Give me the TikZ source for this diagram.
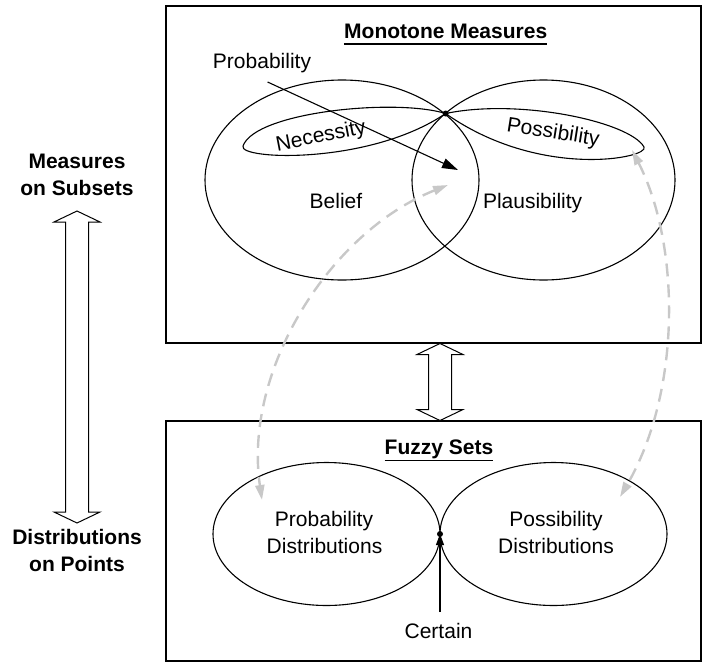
\documentclass[tikz,border=0pt]{standalone}
\usepackage{fontspec}
\setmainfont{Liberation Sans}
\usetikzlibrary{arrows.meta}
\definecolor{linkgray}{RGB}{200,200,200}
% hollow double-headed block arrow: centre x, top tip y, bottom tip y
\newcommand\blockarrow[3]{%
  \draw[blockline] (#1,#2) -- (#1+23,#2+11) -- (#1+11.5,#2+11) -- (#1+11.5,#3-11)
    -- (#1+23,#3-11) -- (#1,#3) -- (#1-23,#3-11) -- (#1-11.5,#3-11)
    -- (#1-11.5,#2+11) -- (#1-23,#2+11) -- cycle;}
\begin{document}
\begin{tikzpicture}[x=1pt,y=-1pt,
  frame/.style={draw,line width=2pt},
  setline/.style={draw,line width=1.1pt},
  blockline/.style={draw,line width=1pt,fill=white},
  lbl/.style={font=\fontsize{21}{25}\selectfont,inner sep=0pt,anchor=base},
  boldlbl/.style={lbl,font=\fontsize{21}{25}\selectfont\bfseries},
  pointer/.style={line width=1.1pt,-{Triangle[length=16pt,width=10pt]}},
  shortpointer/.style={line width=1.1pt,-{Triangle[length=11pt,width=8pt]}},
  graylink/.style={draw=linkgray,line width=2.4pt,dash pattern=on 13pt off 8pt,
    {Triangle[length=15pt,width=9pt]}-{Triangle[length=15pt,width=9pt]}},
  meet/.style={circle,fill,inner sep=0pt,minimum size=6pt}]
\useasboundingbox (0,0) rectangle (704,662);

% ---------- monotone measures ----------
\draw[frame] (166,6) rectangle (701,343);
\node[boldlbl] (mmtitle) at (445.7,38.5) {Monotone Measures};
\draw[line width=1.8pt] ([yshift=-5.5pt]mmtitle.base west) -- ([yshift=-5.5pt]mmtitle.base east);

\draw[setline] (342,180) ellipse [x radius=137, y radius=100];
\draw[setline] (543.5,180) ellipse [x radius=131.5, y radius=100];
\node[meet] (topmeet) at (445.6,113.5) {};
% necessity and possibility loops through the common point
\draw[setline] (topmeet.center) .. controls (395,98) and (255,112) .. (243,146)
   .. controls (238,160) and (370,165) .. (topmeet.center);
\draw[setline] (topmeet.center) .. controls (520,98) and (630,122) .. (644,147)
   .. controls (650,158) and (540,180) .. (topmeet.center);

\node[lbl] (prob) at (262,68) {Probability};
\node[lbl,anchor=center,rotate=11] (nec) at (321,137) {Necessity};
\node[lbl,anchor=center,rotate=-9] (poss) at (553,133) {Possibility};
\node[lbl] (bel) at (336,208) {Belief};
\node[lbl] (pl) at (532.6,208) {Plausibility};

\coordinate (probtail) at (267.6,82);
\coordinate (probtip) at (458,170);
\draw[pointer] (probtail) -- (probtip);

% ---------- fuzzy sets ----------
\draw[frame] (166,421) rectangle (701,661);
\node[boldlbl] (fstitle) at (439,454) {Fuzzy Sets};
\draw[line width=1.8pt] ([yshift=-6.5pt]fstitle.base west) -- ([yshift=-6.5pt]fstitle.base east);

\draw[setline] (326.5,534) ellipse [x radius=113.5, y radius=71.5];
\draw[setline] (553.5,534) ellipse [x radius=113.5, y radius=71.5];
\node[meet] (botmeet) at (440,534) {};

\node[lbl] (pd1) at (324,526) {Probability};
\node[lbl] (pd2) at (324.5,553) {Distributions};
\node[lbl] (sd1) at (556,526) {Possibility};
\node[lbl] (sd2) at (556,553) {Distributions};
\node[lbl] (cert) at (438.5,638) {Certain};
\coordinate (certtail) at (440,612);
\draw[shortpointer] (certtail) -- (botmeet.center);

% ---------- links between the levels ----------
\blockarrow{440}{343.5}{420.5}
\blockarrow{77}{211}{523}

\node[boldlbl] (ms1) at (77,168) {Measures};
\node[boldlbl] (ms2) at (77,195) {on Subsets};
\node[boldlbl] (dp1) at (77,544) {Distributions};
\node[boldlbl] (dp2) at (77,571) {on Points};

\coordinate (ga1) at (448,185);
\coordinate (ga2) at (262,500);
\draw[graylink] (ga1) .. controls (330,232) and (243,370) .. (ga2);
\coordinate (gb1) at (632,150);
\coordinate (gb2) at (620,497);
\draw[graylink] (gb1) .. controls (680,244) and (682,390) .. (gb2);
\end{tikzpicture}
\end{document}
